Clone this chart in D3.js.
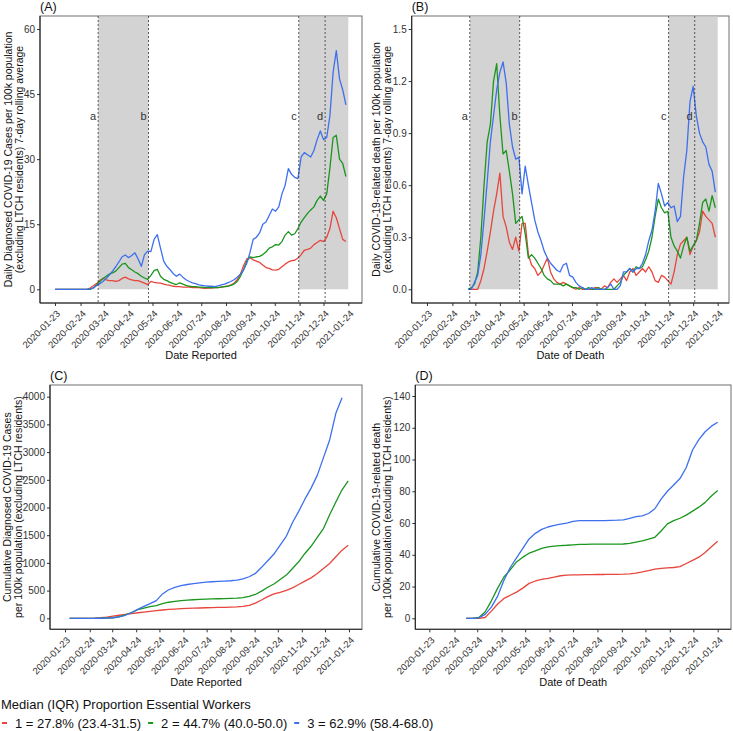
<!DOCTYPE html>
<html>
<head>
<meta charset="utf-8">
<script src="https://cdn.jsdelivr.net/npm/d3@7"></script>
<style>
  html, body { margin: 0; padding: 0; background: #fff; }
  svg { display: block; font-family: "Liberation Sans", Arial, Helvetica, sans-serif; }
</style>
</head>
<body>
<svg id="chart" width="733" height="731"></svg>
<script>
// ---------------- DATA ----------------
const tickDates = ["2020-01-23","2020-02-24","2020-03-24","2020-04-24","2020-05-24","2020-06-24",
  "2020-07-24","2020-08-24","2020-09-24","2020-10-24","2020-11-24","2020-12-24","2021-01-24"];
const groupLabels = ["1 = 27.8% (23.4-31.5)", "2 = 44.7% (40.0-50.0)", "3 = 62.9% (58.4-68.0)"];
const groupColors = ["#E8453C", "#1A961E", "#3D6FEE"];
const legendTitle = "Median (IQR) Proportion Essential Workers";

const eventLabels = ["a", "b", "c", "d"];
const eventDates = ["2020-03-17", "2020-05-19", "2020-11-23", "2020-12-26"];
const shadeStarts = ["2020-03-17", "2020-11-23"];
const shadeEnds = ["2020-05-19", "2021-01-24"];

// Panel A: daily diagnosed cases per 100k, 7-day avg (every 4 days from 2020-01-23)
const casesStart = "2020-01-23", casesStep = 4;
const dailyCases1 = [0,0,0,0,0,0,0,0,0,0,0,
  0.3,0.8,1.3,2.0,2.5,2.2,2.0,2.0,1.8,2.0,
  2.5,2.8,2.4,2.2,2.0,2.0,1.7,1.4,1.1,1.8,
  1.6,1.5,1.4,1.2,1.0,0.9,0.7,0.6,0.6,0.5,
  0.5,0.5,0.4,0.4,0.4,0.3,0.2,0.3,0.3,0.4,
  0.4,0.5,0.6,0.7,1.0,1.4,2.2,3.5,5.5,7.0,
  7.3,6.8,6.5,6.2,5.6,5.0,4.8,4.5,4.4,4.6,
  5.2,5.8,6.3,6.6,6.7,7.2,8.0,9.0,9.2,9.5,
  10.3,10.8,11.3,11.0,12.0,14.0,18.0,16.5,14.0,11.5,
  11.0];
const dailyCases2 = [0,0,0,0,0,0,0,0,0,0,0,0,
  0.3,1.0,1.8,2.5,3.0,3.5,3.8,4.2,
  5.0,5.8,6.0,5.0,4.5,4.0,3.6,3.0,2.6,2.3,
  3.2,4.3,4.6,3.0,2.3,2.0,1.6,1.3,1.1,1.5,
  1.2,0.9,0.7,0.6,0.6,0.5,0.5,0.4,0.4,0.4,
  0.4,0.4,0.5,0.6,0.7,0.9,1.2,1.8,3.0,4.5,
  6.5,7.5,7.3,7.5,7.6,8.0,8.6,9.5,9.8,10.3,
  10.2,11.0,12.5,13.3,12.5,12.8,14.0,15.5,16.5,17.5,
  18.3,19.0,20.5,21.5,20.5,22.0,28.0,35.0,35.5,30.0,
  29.0,26.0];
const dailyCases3 = [0,0,0,0,0,0,0,0,0,0,0,
  0.1,0.3,0.8,1.3,1.8,2.5,3.3,4.2,5.2,6.3,
  7.5,7.9,7.3,7.8,8.4,7.0,5.3,8.0,8.8,8.7,
  11.5,12.6,9.5,6.5,5.3,4.5,3.6,3.0,3.5,2.8,
  2.2,1.8,1.5,1.3,1.0,0.9,0.8,0.7,0.7,0.6,
  0.8,1.0,1.2,1.5,1.8,2.2,2.8,3.5,4.5,6.0,
  8.5,11.5,12.0,13.0,15.0,15.5,17.0,18.5,18.0,19.0,
  22.0,24.0,27.8,26.5,25.8,25.5,30.5,31.5,31.0,30.5,
  32.0,34.5,36.5,34.5,35.0,40.0,50.0,55.0,48.5,46.0,
  42.5];

// Panel B: daily COVID-19-related deaths per 100k, 7-day avg (every 4 days from 2020-03-15)
const deathsStart = "2020-03-15", deathsStep = 4;
const dailyDeaths1 = [0,0,0,0,0.05,0.12,0.22,0.33,0.45,0.55,
  0.67,0.42,0.36,0.27,0.23,0.30,0.22,0.38,0.38,0.20,
  0.14,0.12,0.08,0.10,0.14,0.18,0.10,0.06,0.04,0.03,
  0.04,0.03,0.02,0.01,0,0.01,0,0,0,0,
  0.01,0.01,0,0.02,0.01,0.04,0.06,0.04,0.06,0.08,
  0.05,0.10,0.12,0.08,0.10,0.12,0.10,0.13,0.10,0.05,
  0.04,0.08,0.07,0.05,0.03,0.10,0.20,0.26,0.28,0.30,
  0.20,0.25,0.28,0.33,0.45,0.42,0.40,0.38,0.30];
const dailyDeaths2 = [0,0.01,0.03,0.10,0.30,0.60,0.85,0.95,1.20,1.30,
  1.00,0.78,0.80,0.68,0.55,0.38,0.40,0.42,0.32,0.18,
  0.20,0.18,0.15,0.12,0.08,0.06,0.05,0.03,0.03,0.03,
  0.02,0.03,0.02,0.01,0.01,0,0.01,0,0.01,0,
  0,0.01,0,0,0,0,0,0.02,0.04,0.08,
  0.10,0.12,0.10,0.13,0.12,0.13,0.17,0.22,0.30,0.42,
  0.52,0.47,0.44,0.45,0.30,0.25,0.22,0.18,0.25,0.30,
  0.22,0.25,0.28,0.38,0.50,0.52,0.45,0.54,0.47];
const dailyDeaths3 = [0,0,0.04,0.08,0.20,0.40,0.62,0.85,1.00,1.15,
  1.25,1.31,1.19,0.95,0.82,0.75,0.76,0.55,0.71,0.60,
  0.50,0.40,0.33,0.28,0.22,0.18,0.15,0.13,0.11,0.10,
  0.14,0.15,0.08,0.07,0.04,0.02,0.01,0,0,0.01,
  0,0,0,0,0.01,0.03,0,0,0.02,0.10,
  0.10,0.12,0.10,0.12,0.12,0.15,0.20,0.28,0.34,0.45,
  0.61,0.55,0.48,0.50,0.47,0.48,0.39,0.42,0.65,0.80,
  1.08,1.17,1.00,0.90,0.85,0.82,0.72,0.68,0.56];

// Panel C: cumulative diagnosed cases per 100k (every 8 days from 2020-01-29)
const cumCasesStart = "2020-01-29", cumCasesStep = 8;
const cumCases1 = [0,0,0,0,3,10,22,40,55,70,85,100,112,125,138,150,160,167,173,178,
  182,186,190,193,196,199,202,207,215,235,275,330,390,440,470,505,550,610,670,730,
  810,900,990,1110,1230,1320];
const cumCases2 = [0,0,0,0,0,2,5,10,28,60,105,155,185,210,230,265,290,305,318,327,
  335,340,345,350,353,356,360,365,375,395,430,490,560,620,700,780,900,1020,1170,1300,
  1460,1620,1870,2100,2320,2480];
const cumCases3 = [0,0,0,0,0,1,3,10,25,55,100,160,215,265,320,440,515,560,590,610,
  625,640,652,660,667,672,678,688,710,750,810,920,1040,1160,1320,1480,1730,1930,2150,2350,
  2580,2900,3220,3700,3980];

// Panel D: cumulative COVID-19-related deaths per 100k (every 8 days from 2020-03-10)
const cumDeathsStart = "2020-03-10", cumDeathsStep = 8;
const cumDeaths1 = [0,0,0,0.5,4.5,9,12.5,14.5,16.5,19,22,23.5,24.5,25.2,26,26.8,27.2,27.3,27.4,27.5,
  27.5,27.6,27.6,27.7,27.7,27.8,28,28.5,29.2,30,31,31.5,31.8,32,32.5,34.5,36.5,38.5,41.5,45,48.5];
const cumDeaths2 = [0,0,0.5,4,11,19,26,30.5,35.5,38.5,41,42.5,44,45,45.5,45.8,46,46.3,46.5,46.6,
  46.7,46.7,46.7,46.7,46.7,46.8,47.2,48,48.8,49.8,51,55,59.5,61.5,63,65,67.5,70,73,77,80.5];
const cumDeaths3 = [0,0,0.3,2.5,7,14,24,32,38,44,50,53.5,56,57.5,58.5,59.3,60,61,61.5,61.5,
  61.5,61.5,61.5,61.7,61.8,62,63,64,64.5,66,69,75,80,84,88,95,106,112.5,117.5,121,123.5];

// ---------------- DRAWING ----------------
const parse = d3.utcParse("%Y-%m-%d");
const fmt = d3.utcFormat("%Y-%m-%d");
const svg = d3.select("#chart");
const textCol = "#333333";

function series(start, step, values) {
  const s = parse(start);
  return values.map((v, i) => ({ date: d3.utcDay.offset(s, step * i), value: v }));
}

const panels = [
  { tag: "(A)", box: [40, 16, 362, 303], xr: [55, 348.3], yr: [289.3, 29], ymax: 60,
    yticks: [0, 15, 30, 45, 60], yfmt: d3.format("d"), events: true, labelValue: 40,
    xtitle: "Date Reported", xty: 359,
    ytitle: ["Daily Diagnosed COVID-19 Cases per 100k population", "(excluding LTCH residents) 7-day rolling average"],
    ytx: [12, 23],
    data: [series(casesStart, casesStep, dailyCases1), series(casesStart, casesStep, dailyCases2), series(casesStart, casesStep, dailyCases3)] },
  { tag: "(B)", box: [411.7, 16, 729, 303], xr: [427, 717.7], yr: [289.3, 29], ymax: 1.5,
    yticks: [0, 0.3, 0.6, 0.9, 1.2, 1.5], yfmt: d3.format(".1f"), events: true, labelValue: 1.0,
    xtitle: "Date of Death", xty: 359,
    ytitle: ["Daily COVID-19-related death per 100k population", "(excluding LTCH residents) 7-day rolling average"],
    ytx: [380, 391],
    data: [series(deathsStart, deathsStep, dailyDeaths1), series(deathsStart, deathsStep, dailyDeaths2), series(deathsStart, deathsStep, dailyDeaths3)] },
  { tag: "(C)", box: [50, 385, 362, 629.3], xr: [65, 349], yr: [618.3, 396.7], ymax: 4000,
    yticks: [0, 500, 1000, 1500, 2000, 2500, 3000, 3500, 4000], yfmt: d3.format("d"), events: false,
    xtitle: "Date Reported", xty: 686,
    ytitle: ["Cumulative Diagnosed COVID-19 Cases", "per 100k population (excluding LTCH residents)"],
    ytx: [11, 22],
    data: [series(cumCasesStart, cumCasesStep, cumCases1), series(cumCasesStart, cumCasesStep, cumCases2), series(cumCasesStart, cumCasesStep, cumCases3)] },
  { tag: "(D)", box: [415.3, 385, 731, 629.3], xr: [429.3, 717.7], yr: [618.3, 396], ymax: 140,
    yticks: [0, 20, 40, 60, 80, 100, 120, 140], yfmt: d3.format("d"), events: false,
    xtitle: "Date of Death", xty: 686,
    ytitle: ["Cumulative COVID-19-related death", "per 100k population (excluding LTCH residents)"],
    ytx: [380, 391],
    data: [series(cumDeathsStart, cumDeathsStep, cumDeaths1), series(cumDeathsStart, cumDeathsStep, cumDeaths2), series(cumDeathsStart, cumDeathsStep, cumDeaths3)] }
];

const tickVals = tickDates.map(parse);

panels.forEach(p => {
  const [l, t, r, b] = p.box;
  const x = d3.scaleUtc().domain([parse(tickDates[0]), parse(tickDates[tickDates.length - 1])]).range(p.xr);
  const y = d3.scaleLinear().domain([0, p.ymax]).range(p.yr);
  const g = svg.append("g");

  g.append("rect").attr("x", l).attr("y", t).attr("width", r - l).attr("height", b - t)
    .attr("fill", "#fff").attr("stroke", "#6e6e6e").attr("stroke-width", 1);

  if (p.events) {
    shadeStarts.forEach((s, i) => {
      g.append("rect")
        .attr("x", x(parse(s))).attr("width", x(parse(shadeEnds[i])) - x(parse(s)))
        .attr("y", t + 0.5).attr("height", y(0) - t - 0.5)
        .attr("fill", "#d3d3d3");
    });
  }

  const line = d3.line().x(d => x(d.date)).y(d => y(d.value));
  p.data.forEach((s, i) => {
    g.append("path").datum(s).attr("d", line)
      .attr("fill", "none").attr("stroke", groupColors[i]).attr("stroke-width", 1.3)
      .attr("stroke-linejoin", "round");
  });

  if (p.events) {
    eventDates.forEach((ed, i) => {
      const ex = x(parse(ed));
      g.append("line").attr("x1", ex).attr("x2", ex).attr("y1", t).attr("y2", b)
        .attr("stroke", "#333").attr("stroke-width", 0.8).attr("stroke-dasharray", "2,2");
      g.append("text").attr("x", ex - 2).attr("y", y(p.labelValue)).attr("dy", "0.35em")
        .attr("text-anchor", "end").attr("font-size", 11).attr("fill", textCol).text(eventLabels[i]);
    });
  }

  const xa = g.append("g").attr("transform", `translate(0,${b})`)
    .call(d3.axisBottom(x).tickValues(tickVals).tickFormat(fmt).tickSize(3));
  xa.select(".domain").remove();
  xa.selectAll(".tick line").attr("stroke", "#333");
  xa.selectAll(".tick text")
    .attr("x", 0).attr("y", 0).attr("dy", "0.35em")
    .attr("transform", "translate(3,9) rotate(-45)")
    .attr("text-anchor", "end").attr("font-size", 9.5).attr("fill", textCol)
    .attr("font-family", null);

  const ya = g.append("g").attr("transform", `translate(${l},0)`)
    .call(d3.axisLeft(y).tickValues(p.yticks).tickFormat(p.yfmt).tickSize(3).tickPadding(2));
  ya.select(".domain").remove();
  ya.selectAll(".tick line").attr("stroke", "#333");
  ya.selectAll(".tick text").attr("font-size", 10).attr("fill", textCol).attr("font-family", null);

  g.append("line").attr("x1", l).attr("x2", r).attr("y1", b).attr("y2", b).attr("stroke", "#222").attr("stroke-width", 1.1);
  g.append("line").attr("x1", l).attr("x2", l).attr("y1", t).attr("y2", b).attr("stroke", "#222").attr("stroke-width", 1.1);

  g.append("text").attr("x", l).attr("y", t - 5).attr("font-size", 12.5).attr("fill", "#111").text(p.tag);
  g.append("text").attr("x", (l + r) / 2).attr("y", p.xty)
    .attr("text-anchor", "middle").attr("font-size", 11).attr("fill", "#111").text(p.xtitle);
  const cy = (t + b) / 2;
  p.ytitle.forEach((txt, i) => {
    g.append("text").attr("transform", `translate(${p.ytx[i]},${cy}) rotate(-90)`)
      .attr("text-anchor", "middle").attr("font-size", 10.5).attr("fill", "#111").text(txt);
  });
});

// legend
const lg = svg.append("g");
lg.append("text").attr("x", 1).attr("y", 709).attr("font-size", 13).attr("fill", "#111").text(legendTitle);
let lx = 2;
groupLabels.forEach((lab, i) => {
  lg.append("line").attr("x1", lx).attr("x2", lx + 5).attr("y1", 723).attr("y2", 723)
    .attr("stroke", groupColors[i]).attr("stroke-width", 2);
  const tx = lg.append("text").attr("x", lx + 13).attr("y", 727.5).attr("font-size", 13)
    .attr("fill", "#111").text(lab);
  lx = lx + 13 + tx.node().getComputedTextLength() + 7;
});
</script>
</body>
</html>
